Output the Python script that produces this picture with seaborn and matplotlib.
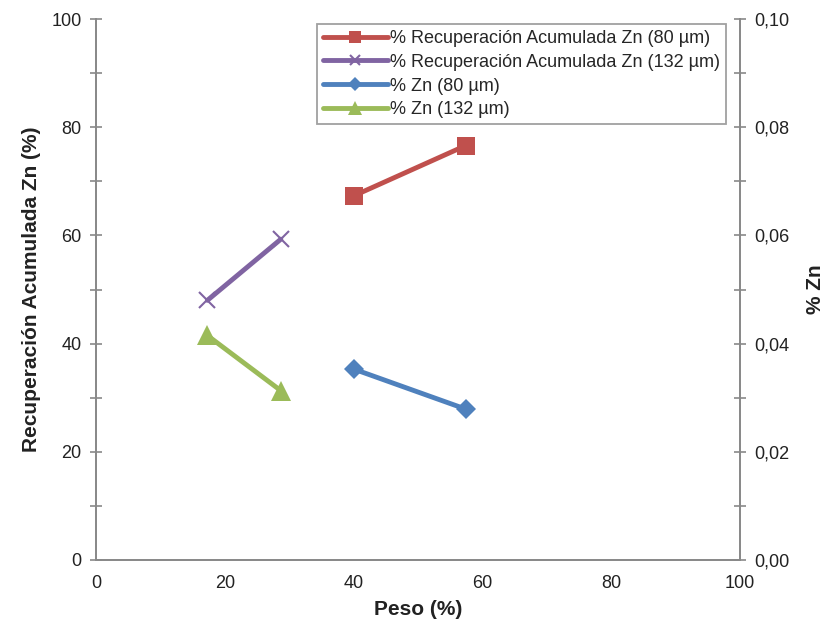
import matplotlib
matplotlib.use("Agg")
import matplotlib.pyplot as plt
from matplotlib.ticker import MultipleLocator, FuncFormatter
import seaborn as sns
import pandas as pd

sns.set_theme(style="white")
plt.rcParams["font.family"] = ["Liberation Sans", "DejaVu Sans"]

# Peso (%) for each fraction
peso_80 = [40.0, 57.4]
peso_132 = [17.3, 28.7]
# Recuperación acumulada de Zn (%)
recup_80 = [67.3, 76.6]
recup_132 = [48.0, 59.3]
# Ley de Zn (%)
zn_80 = [0.0353, 0.0279]
zn_132 = [0.0415, 0.0313]

labels = [
    "% Recuperación Acumulada Zn (80 µm)",
    "% Recuperación Acumulada Zn (132 µm)",
    "% Zn (80 µm)",
    "% Zn (132 µm)",
]
colors = ["#C0504D", "#8064A2", "#4F81BD", "#9BBB59"]

fig = plt.figure(figsize=(8.28, 6.30), dpi=100)
ax = fig.add_axes([96 / 828, 1 - 560 / 630, (740 - 96) / 828, (560 - 19) / 630])
ax2 = ax.twinx()

gray = "#898989"
lw = 3.5

d1 = pd.DataFrame({"x": peso_80, "y": recup_80})
d2 = pd.DataFrame({"x": peso_132, "y": recup_132})
d3 = pd.DataFrame({"x": peso_80, "y": zn_80})
d4 = pd.DataFrame({"x": peso_132, "y": zn_132})

sns.lineplot(data=d1, x="x", y="y", ax=ax, color=colors[0], lw=lw, linestyle="-",
             marker="s", markersize=13, markeredgewidth=0, label=labels[0], legend=False)
sns.lineplot(data=d2, x="x", y="y", ax=ax, color=colors[1], lw=lw, linestyle="-",
             marker="x", markersize=11, markeredgewidth=1.5,
             markeredgecolor=colors[1], label=labels[1], legend=False)
sns.lineplot(data=d3, x="x", y="y", ax=ax2, color=colors[2], lw=lw, linestyle="-",
             marker="D", markersize=10, markeredgewidth=0, label=labels[2], legend=False)
sns.lineplot(data=d4, x="x", y="y", ax=ax2, color=colors[3], lw=lw, linestyle="-",
             marker="^", markersize=14, markeredgewidth=0, label=labels[3], legend=False)

ax.set_xlim(0, 100)
ax.set_ylim(0, 100)
ax2.set_ylim(0, 0.10)

ax.xaxis.set_major_locator(MultipleLocator(10))
ax.xaxis.set_major_formatter(FuncFormatter(lambda v, p: f"{v:.0f}" if round(v) % 20 == 0 else ""))
ax.yaxis.set_major_locator(MultipleLocator(10))
ax.yaxis.set_major_formatter(FuncFormatter(lambda v, p: f"{v:.0f}" if round(v) % 20 == 0 else ""))
ax2.yaxis.set_major_locator(MultipleLocator(0.01))
ax2.yaxis.set_major_formatter(
    FuncFormatter(lambda v, p: f"{v:.2f}".replace(".", ",") if round(v * 100) % 2 == 0 else ""))

for a in (ax, ax2):
    for s in a.spines.values():
        s.set_color(gray)
        s.set_linewidth(1.3)
    a.spines["top"].set_visible(False)
    a.tick_params(colors=gray, labelcolor="#222222", labelsize=13, length=9,
                  width=1.2, direction="inout")
    a.grid(False)
ax.tick_params(axis="x", pad=6)
ax.tick_params(axis="y", pad=6)
ax2.tick_params(axis="y", pad=6)

ax.set_xlabel("Peso (%)", fontsize=15, fontweight="bold", color="#222222", labelpad=6)
ax.set_ylabel("Recuperación Acumulada Zn (%)", fontsize=15, fontweight="bold",
              color="#222222", labelpad=7)
ax2.set_ylabel("% Zn", fontsize=15, fontweight="bold", color="#222222", labelpad=12)

h1, l1 = ax.get_legend_handles_labels()
h2, l2 = ax2.get_legend_handles_labels()
leg = ax2.legend(h1 + h2, l1 + l2, loc="upper right", bbox_to_anchor=(0.978, 0.99),
                 fontsize=13, frameon=True, fancybox=False, handlelength=3.6,
                 handletextpad=0.15, borderpad=0.3, labelspacing=0.38, markerscale=0.7,
                 borderaxespad=0.0)
leg.get_frame().set_edgecolor(gray)
leg.get_frame().set_linewidth(1.3)

fig.savefig("out.png", dpi=100)
